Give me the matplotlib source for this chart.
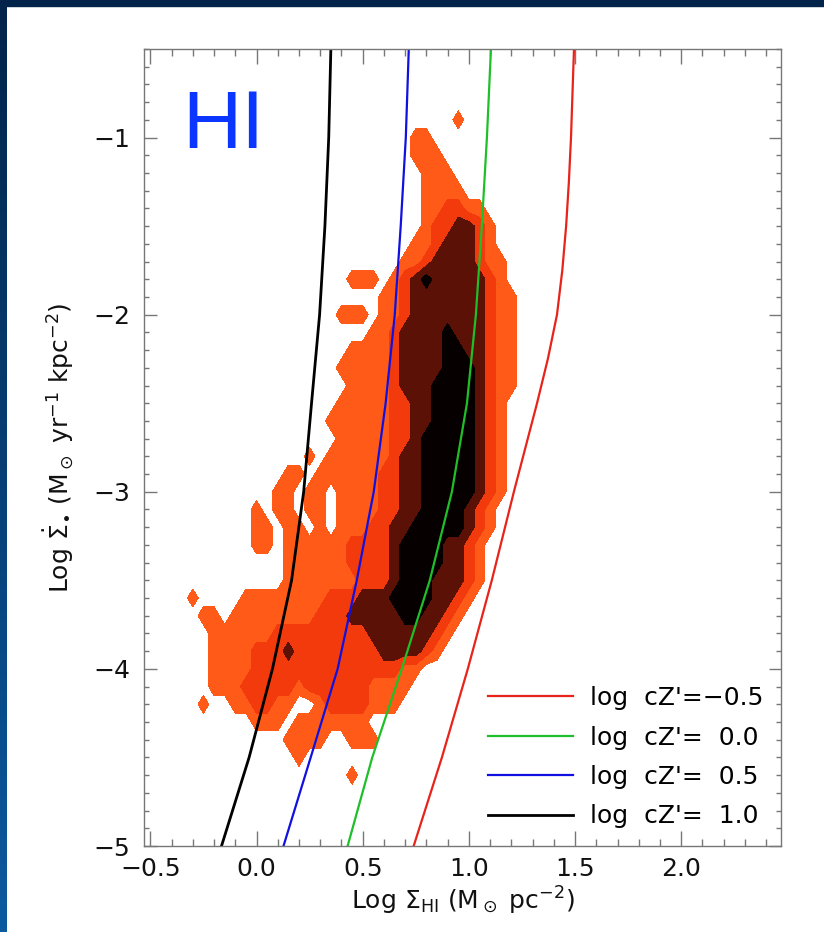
import numpy as np
import matplotlib
matplotlib.use('Agg')
import matplotlib.pyplot as plt
from matplotlib.patches import Rectangle
from matplotlib.colors import LinearSegmentedColormap
from matplotlib.ticker import MultipleLocator

plt.rcParams['font.family'] = ['DejaVu Sans']
plt.rcParams['mathtext.fontset'] = 'dejavusans'

# model curves (log Sigma_SFR -> log Sigma_HI)
red_y = [-0.5, -1.0, -1.25, -1.5, -1.75, -2.0, -2.25, -2.5, -3.0, -3.5, -4.0, -4.5, -5.0]
red_x = [1.495, 1.481, 1.471, 1.458, 1.440, 1.415, 1.372, 1.321, 1.212, 1.108, 0.995, 0.873, 0.740]
curve_y = [-0.5, -1.0, -1.5, -2.0, -2.5, -3.0, -3.5, -4.0, -4.5, -5.0]
green_x = [1.104, 1.085, 1.061, 1.033, 0.991, 0.920, 0.816, 0.684, 0.545, 0.429]
blue_x = [0.717, 0.703, 0.679, 0.651, 0.608, 0.552, 0.472, 0.382, 0.255, 0.127]
black_x = [0.350, 0.340, 0.322, 0.297, 0.259, 0.222, 0.165, 0.075, -0.035, -0.165]

curve_labels = ["log  cZ'=\u22120.5", "log  cZ'=  0.0", "log  cZ'=  0.5", "log  cZ'=  1.0"]
curve_colors = ['#e8231a', '#1fbf2a', '#1010e0', '#000000']
curve_widths = [1.6, 1.6, 1.6, 2.0]

# density levels of the pixel distribution (0 = empty .. 4 = densest)
# columns from x=-0.35 in steps of 0.05, rows from y=-0.8 in steps of -0.1
grid_x0, grid_dx, grid_nx = -0.35, 0.05, 36
grid_y0, grid_dy = -0.8, -0.1
grid_rows = [
    (0, ""),
    (26, "1"),
    (22, "11"),
    (22, "111"),
    (23, "111"),
    (23, "1111"),
    (23, "112211"),
    (23, "1223321"),
    (22, "11233321"),
    (21, "1123333211"),
    (16, "111012343333321"),
    (19, "1123333333211"),
    (15, "11101123333333211"),
    (18, "11233334333211"),
    (16, "1111233334433211"),
    (15, "11111233334443211"),
    (16, "1111233344443211"),
    (15, "1111122334444321"),
    (14, "11111122334444321"),
    (15, "1111122344444321"),
    (12, "1011111123344444321"),
    (10, "110111111223344444321"),
    (9, "1101101111223344444321"),
    (7, "10110110111122334444321"),
    (7, "11011010111223344444321"),
    (6, "01101111112222344443321"),
    (6, "00001111112222344443321"),
    (6, "00001111111222344433321"),
    (1, "100001111111122233344443321"),
    (2, "1101111111122233333443321"),
    (3, "11111122222222233333321"),
    (3, "1111222322222222333321"),
    (3, "11112222222222222211"),
    (3, "1112222212222221111"),
    (2, "1001122110012222111"),
    (7, "11101111111"),
    (10, "111100111"),
    (11, "1"),
    (16, "1"),
    (0, ""),
]
level_colors = ['#ff5a18', '#f23a0c', '#5c1106', '#070000']

Z = np.zeros((len(grid_rows), grid_nx))
for r, (start, s) in enumerate(grid_rows):
    for k, ch in enumerate(s):
        Z[r, start + k] = int(ch)
gx = grid_x0 + grid_dx * np.arange(grid_nx)
gy = grid_y0 + grid_dy * np.arange(len(grid_rows))

fig = plt.figure(figsize=(8.24, 9.32), dpi=100)
fig.patch.set_facecolor('white')

# dark frame: top band and left gradient strip
fig.patches.append(Rectangle((0, 1 - 6 / 932), 1, 6 / 932, transform=fig.transFigure,
                             color='#02244a', zorder=0))
strip = fig.add_axes([0, 0, 7 / 824, 1 - 6 / 932])
grad = np.linspace(0, 1, 256).reshape(-1, 1)
cm = LinearSegmentedColormap.from_list('frame', ['#02244a', '#0b5aa0'])
strip.imshow(grad, aspect='auto', cmap=cm, extent=[0, 1, 1, 0])
strip.axis('off')

ax = fig.add_axes([144 / 824, 1 - 846 / 932, 637 / 824, 797 / 932])
ax.contourf(gx, gy, Z, levels=[0.5, 1.5, 2.5, 3.5, 4.5], colors=level_colors)

for xs, ys, c, lw, lab in zip([red_x, green_x, blue_x, black_x],
                              [red_y, curve_y, curve_y, curve_y],
                              curve_colors, curve_widths, curve_labels):
    ax.plot(xs, ys, color=c, lw=lw, label=lab)

ax.set_xlim(-0.53, 2.47)
ax.set_ylim(-5.0, -0.5)
ax.set_xticks([-0.5, 0.0, 0.5, 1.0, 1.5, 2.0])
ax.set_xticklabels(['\u22120.5', '0.0', '0.5', '1.0', '1.5', '2.0'])
ax.set_yticks([-5, -4, -3, -2, -1])
ax.set_yticklabels(['\u22125', '\u22124', '\u22123', '\u22122', '\u22121'])
ax.xaxis.set_minor_locator(MultipleLocator(0.1))
ax.yaxis.set_minor_locator(MultipleLocator(0.1))
ax.tick_params(which='both', direction='in', top=True, right=True, color='#777777',
               width=1.0, labelsize=18, labelcolor='#111111')
ax.tick_params(axis='x', which='major', length=11, pad=8)
ax.tick_params(axis='x', which='minor', length=5)
ax.tick_params(axis='y', which='major', length=9, pad=10)
ax.tick_params(axis='y', which='minor', length=3.5)
for sp in ax.spines.values():
    sp.set_color('#777777')
    sp.set_linewidth(1.0)

ax.set_xlabel(r"Log $\Sigma_{\mathrm{HI}}$ (M$_\odot$ pc$^{-2}$)", fontsize=18, color='#111111',
              labelpad=3)
ax.set_ylabel(r"Log $\dot{\Sigma}_{\bullet}$ (M$_\odot$ yr$^{-1}$ kpc$^{-2}$)", fontsize=18,
              color='#111111', labelpad=12)

ax.text(0.06, 0.876, 'HI', transform=ax.transAxes, fontsize=59, color='#0a36ff',
        family='Liberation Sans', ha='left', va='baseline')

ax.legend(loc='lower right', frameon=False, fontsize=18, handlelength=3.4,
          handletextpad=0.7, labelspacing=0.62, borderaxespad=0.3)

fig.savefig('out.png', dpi=100, facecolor='white')
